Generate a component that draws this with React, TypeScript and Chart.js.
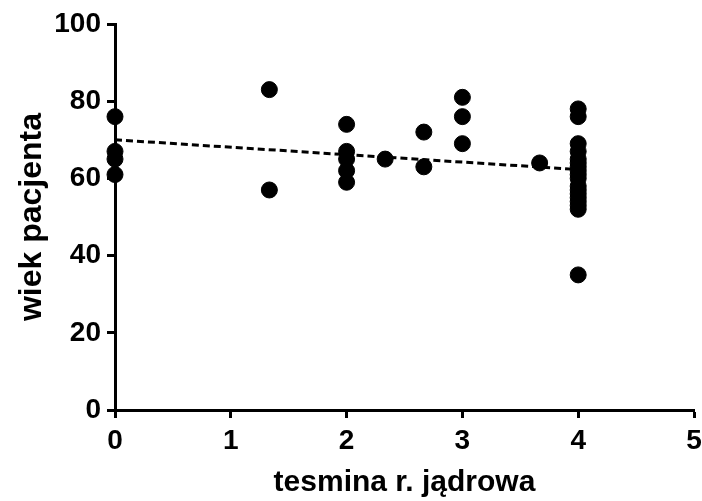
import React, { useEffect, useRef } from "react";
import { Chart, registerables } from "chart.js";

Chart.register(...registerables);

// tesmina r. jądrowa (x) vs wiek pacjenta (y)
const pointX = [
  0, 0, 0, 0,
  1.333, 1.333,
  2, 2, 2, 2, 2,
  2.333,
  2.667, 2.667,
  3, 3, 3,
  3.667,
  4, 4, 4, 4, 4, 4, 4, 4, 4, 4, 4, 4, 4, 4, 4, 4, 4, 4,
];
const pointY = [
  76, 67, 65, 61,
  83, 57,
  74, 67, 65, 62, 59,
  65,
  72, 63,
  81, 76, 69,
  64,
  78, 76, 69, 67, 65, 64, 63, 62, 61, 60, 58, 57, 56, 55, 54, 53, 52, 35,
];
const trendX = [0, 4];
const trendY = [70, 62.3];
const xTicks = [0, 1, 2, 3, 4, 5];
const yTicks = [0, 20, 40, 60, 80, 100];
const xTitle = "tesmina r. jądrowa";
const yTitle = "wiek pacjenta";

const FONT = '"Liberation Sans", Arial, sans-serif';

export default function App() {
  const ref = useRef<HTMLCanvasElement>(null);
  useEffect(() => {
    document.body.style.margin = "0";
    const ctx = ref.current!;
    const chart = new Chart(ctx, {
      type: "scatter",
      data: {
        datasets: [
          {
            type: "line",
            data: trendX.map((x, i) => ({ x, y: trendY[i] })),
            borderColor: "#000",
            borderWidth: 3,
            borderDash: [7, 4],
            pointRadius: 0,
            fill: false,
            clip: false,
          },
          {
            data: pointX.map((x, i) => ({ x, y: pointY[i] })),
            backgroundColor: "#000",
            borderColor: "#000",
            pointRadius: 8,
            pointHoverRadius: 8,
            clip: false,
          },
        ],
      },
      options: {
        responsive: false,
        animation: false,
        layout: { autoPadding: false, padding: { top: 24, right: 8, left: 0, bottom: 0 } },
        plugins: { legend: { display: false }, tooltip: { enabled: false } },
        scales: {
          x: {
            type: "linear",
            min: 0,
            max: 5,
            afterFit: (s: any) => {
              s.height = 91;
              s.paddingLeft = 0;
              s.paddingRight = 0;
            },
            afterBuildTicks: (s: any) => {
              s.ticks = xTicks.map((v) => ({ value: v }));
            },
            border: { display: true, color: "#000", width: 3 },
            grid: {
              drawOnChartArea: false,
              drawTicks: true,
              tickLength: 8,
              tickWidth: 3,
              tickColor: "#000",
            },
            ticks: {
              color: "#000",
              padding: 6,
              font: { family: FONT, size: 28, weight: "bold" },
            },
            title: {
              display: true,
              text: xTitle,
              color: "#000",
              font: { family: FONT, size: 30, weight: "bold" },
              padding: { top: 0, bottom: 0 },
            },
          },
          y: {
            type: "linear",
            min: 0,
            max: 100,
            afterFit: (s: any) => {
              s.width = 115;
              s.paddingTop = 0;
              s.paddingBottom = 0;
            },
            afterBuildTicks: (s: any) => {
              s.ticks = yTicks.map((v) => ({ value: v }));
            },
            border: { display: true, color: "#000", width: 3 },
            grid: {
              drawOnChartArea: false,
              drawTicks: true,
              tickLength: 8,
              tickWidth: 3,
              tickColor: "#000",
            },
            ticks: {
              color: "#000",
              padding: 6,
              font: { family: FONT, size: 28, weight: "bold" },
            },
            title: {
              display: true,
              text: yTitle,
              color: "#000",
              font: { family: FONT, size: 32, weight: "bold" },
              padding: { top: 13, bottom: 0 },
            },
          },
        },
      },
    });
    return () => chart.destroy();
  }, []);
  return (
    <div style={{ width: 702, height: 501 }}>
      <canvas ref={ref} width={702} height={501} style={{ width: 702, height: 501, display: "block" }} />
    </div>
  );
}
